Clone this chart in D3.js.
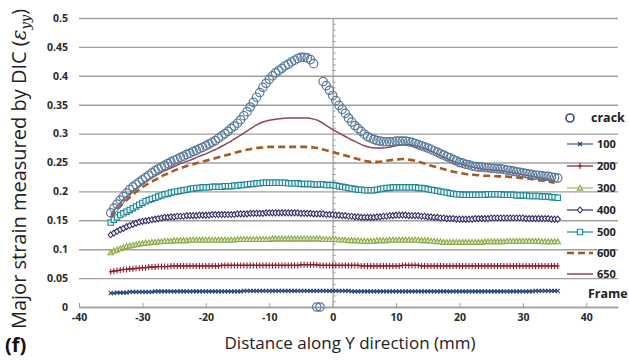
<!DOCTYPE html>
<html>
<head>
<meta charset="utf-8">
<script src="https://cdn.jsdelivr.net/npm/d3@7"></script>
<style>
  html, body { margin: 0; padding: 0; background: #fff; }
  svg { display: block; font-family: "Open Sans", sans-serif; }
</style>
</head>
<body>
<div id="graph"></div>
<script>
// sample positions along Y (mm): 0.5 mm for the marker series, 1 mm for the plain lines
const xs = d3.range(-35, 35.6, 0.5);
const xsLine = d3.range(-35, 35.1, 1);

const crack = [
  0.163, 0.171, 0.178, 0.185, 0.191, 0.197, 0.203, 0.208, 0.212, 0.216,
  0.220, 0.224, 0.228, 0.232, 0.236, 0.239, 0.242, 0.245, 0.248, 0.251,
  0.254, 0.256, 0.259, 0.261, 0.264, 0.266, 0.269, 0.271, 0.274, 0.276,
  0.279, 0.282, 0.285, 0.288, 0.292, 0.296, 0.300, 0.304, 0.309, 0.313,
  0.318, 0.324, 0.331, 0.338, 0.346, 0.354, 0.363, 0.371, 0.380, 0.387,
  0.394, 0.400, 0.405, 0.409, 0.413, 0.417, 0.420, 0.424, 0.427, 0.430,
  0.432, 0.432, 0.431, 0.428, 0.421, 0, 0, 0.390, 0.383, 0.375,
  0.366, 0.357, 0.349, 0.342, 0.335, 0.327, 0.320, 0.314, 0.309, 0.304,
  0.299, 0.295, 0.292, 0.290, 0.288, 0.287, 0.286, 0.286, 0.286, 0.286,
  0.287, 0.287, 0.287, 0.287, 0.286, 0.285, 0.283, 0.281, 0.279, 0.277,
  0.275, 0.273, 0.270, 0.268, 0.265, 0.263, 0.260, 0.258, 0.255, 0.253,
  0.250, 0.249, 0.247, 0.246, 0.244, 0.243, 0.242, 0.242, 0.241, 0.241,
  0.240, 0.240, 0.239, 0.239, 0.238, 0.237, 0.236, 0.235, 0.234, 0.233,
  0.232, 0.231, 0.230, 0.229, 0.228, 0.228, 0.227, 0.226, 0.226, 0.225,
  0.224, 0.223
];

const f100 = [
  0.024, 0.024, 0.025, 0.025, 0.025, 0.025, 0.026, 0.026, 0.026, 0.026,
  0.026, 0.026, 0.026, 0.026, 0.027, 0.027, 0.027, 0.027, 0.027, 0.027,
  0.027, 0.027, 0.027, 0.027, 0.027, 0.027, 0.027, 0.027, 0.027, 0.027,
  0.027, 0.027, 0.027, 0.027, 0.027, 0.027, 0.027, 0.027, 0.027, 0.027,
  0.027, 0.027, 0.028, 0.028, 0.028, 0.028, 0.028, 0.028, 0.028, 0.028,
  0.028, 0.028, 0.028, 0.028, 0.028, 0.028, 0.028, 0.028, 0.028, 0.028,
  0.028, 0.028, 0.028, 0.028, 0.028, 0.028, 0.028, 0.028, 0.028, 0.028,
  0.028, 0.028, 0.028, 0.028, 0.028, 0.028, 0.027, 0.027, 0.027, 0.027,
  0.027, 0.027, 0.027, 0.027, 0.027, 0.027, 0.027, 0.027, 0.027, 0.027,
  0.027, 0.027, 0.027, 0.027, 0.027, 0.027, 0.027, 0.027, 0.027, 0.027,
  0.027, 0.027, 0.027, 0.027, 0.027, 0.027, 0.027, 0.027, 0.027, 0.027,
  0.027, 0.027, 0.027, 0.027, 0.027, 0.027, 0.027, 0.027, 0.027, 0.027,
  0.027, 0.027, 0.027, 0.027, 0.027, 0.027, 0.027, 0.027, 0.027, 0.027,
  0.027, 0.027, 0.027, 0.027, 0.028, 0.028, 0.028, 0.028, 0.028, 0.028,
  0.028, 0.028
];

const f200 = [
  0.061, 0.062, 0.063, 0.064, 0.065, 0.065, 0.066, 0.066, 0.067, 0.067,
  0.068, 0.068, 0.069, 0.069, 0.069, 0.070, 0.070, 0.070, 0.070, 0.071,
  0.071, 0.071, 0.071, 0.071, 0.071, 0.071, 0.071, 0.071, 0.071, 0.071,
  0.071, 0.071, 0.071, 0.071, 0.071, 0.072, 0.072, 0.072, 0.072, 0.072,
  0.072, 0.072, 0.072, 0.072, 0.072, 0.072, 0.072, 0.072, 0.072, 0.072,
  0.072, 0.072, 0.072, 0.072, 0.072, 0.072, 0.072, 0.072, 0.072, 0.072,
  0.073, 0.073, 0.073, 0.073, 0.073, 0.073, 0.072, 0.072, 0.072, 0.072,
  0.072, 0.072, 0.072, 0.072, 0.072, 0.072, 0.072, 0.072, 0.072, 0.071,
  0.071, 0.071, 0.071, 0.071, 0.071, 0.071, 0.071, 0.071, 0.071, 0.071,
  0.071, 0.071, 0.072, 0.072, 0.072, 0.072, 0.072, 0.072, 0.071, 0.071,
  0.071, 0.071, 0.071, 0.071, 0.071, 0.071, 0.071, 0.071, 0.071, 0.071,
  0.071, 0.071, 0.071, 0.071, 0.071, 0.071, 0.071, 0.071, 0.071, 0.071,
  0.071, 0.071, 0.071, 0.071, 0.071, 0.071, 0.071, 0.071, 0.071, 0.071,
  0.071, 0.071, 0.071, 0.071, 0.071, 0.071, 0.071, 0.071, 0.071, 0.071,
  0.071, 0.071
];

const f300 = [
  0.094, 0.097, 0.099, 0.101, 0.103, 0.105, 0.106, 0.107, 0.108, 0.109,
  0.110, 0.111, 0.111, 0.112, 0.112, 0.113, 0.113, 0.114, 0.114, 0.114,
  0.115, 0.115, 0.115, 0.115, 0.115, 0.116, 0.116, 0.116, 0.116, 0.116,
  0.116, 0.116, 0.116, 0.116, 0.116, 0.116, 0.116, 0.116, 0.116, 0.116,
  0.117, 0.117, 0.117, 0.117, 0.117, 0.117, 0.117, 0.117, 0.117, 0.117,
  0.117, 0.118, 0.118, 0.118, 0.118, 0.118, 0.118, 0.118, 0.118, 0.118,
  0.118, 0.118, 0.118, 0.118, 0.118, 0.118, 0.118, 0.117, 0.117, 0.117,
  0.117, 0.117, 0.116, 0.116, 0.116, 0.115, 0.115, 0.115, 0.115, 0.114,
  0.114, 0.114, 0.114, 0.114, 0.115, 0.115, 0.115, 0.115, 0.116, 0.116,
  0.116, 0.116, 0.116, 0.116, 0.116, 0.116, 0.116, 0.116, 0.115, 0.115,
  0.115, 0.114, 0.114, 0.113, 0.113, 0.112, 0.112, 0.112, 0.112, 0.112,
  0.112, 0.112, 0.112, 0.112, 0.112, 0.112, 0.112, 0.112, 0.113, 0.113,
  0.113, 0.113, 0.113, 0.113, 0.113, 0.114, 0.114, 0.114, 0.114, 0.114,
  0.114, 0.114, 0.114, 0.114, 0.114, 0.114, 0.113, 0.113, 0.113, 0.113,
  0.113, 0.113
];

const f400 = [
  0.125, 0.128, 0.131, 0.134, 0.136, 0.139, 0.141, 0.143, 0.145, 0.147,
  0.148, 0.149, 0.150, 0.151, 0.152, 0.153, 0.154, 0.155, 0.155, 0.156,
  0.156, 0.157, 0.157, 0.157, 0.158, 0.158, 0.158, 0.158, 0.159, 0.159,
  0.159, 0.159, 0.160, 0.160, 0.160, 0.160, 0.160, 0.160, 0.160, 0.160,
  0.161, 0.161, 0.161, 0.161, 0.162, 0.162, 0.162, 0.162, 0.162, 0.163,
  0.163, 0.163, 0.163, 0.163, 0.163, 0.163, 0.163, 0.163, 0.163, 0.163,
  0.162, 0.162, 0.162, 0.162, 0.161, 0.161, 0.161, 0.161, 0.160, 0.160,
  0.160, 0.159, 0.159, 0.158, 0.158, 0.157, 0.157, 0.156, 0.156, 0.155,
  0.155, 0.155, 0.155, 0.155, 0.156, 0.156, 0.157, 0.157, 0.158, 0.158,
  0.159, 0.159, 0.159, 0.159, 0.158, 0.158, 0.158, 0.158, 0.157, 0.157,
  0.156, 0.156, 0.155, 0.155, 0.154, 0.154, 0.153, 0.153, 0.153, 0.152,
  0.152, 0.152, 0.152, 0.152, 0.152, 0.153, 0.153, 0.153, 0.153, 0.153,
  0.154, 0.154, 0.154, 0.154, 0.154, 0.154, 0.154, 0.154, 0.154, 0.154,
  0.154, 0.153, 0.153, 0.153, 0.153, 0.153, 0.153, 0.153, 0.153, 0.152,
  0.152, 0.152
];

const f500 = [
  0.146, 0.151, 0.155, 0.159, 0.162, 0.165, 0.168, 0.171, 0.174, 0.177,
  0.180, 0.183, 0.185, 0.187, 0.189, 0.191, 0.193, 0.195, 0.196, 0.198,
  0.199, 0.200, 0.201, 0.202, 0.203, 0.204, 0.205, 0.206, 0.206, 0.207,
  0.207, 0.207, 0.208, 0.208, 0.208, 0.208, 0.209, 0.209, 0.209, 0.210,
  0.210, 0.211, 0.211, 0.212, 0.213, 0.213, 0.214, 0.214, 0.215, 0.215,
  0.215, 0.215, 0.215, 0.215, 0.215, 0.215, 0.214, 0.214, 0.214, 0.214,
  0.213, 0.213, 0.213, 0.213, 0.212, 0.212, 0.212, 0.212, 0.211, 0.211,
  0.211, 0.210, 0.209, 0.208, 0.207, 0.206, 0.205, 0.204, 0.203, 0.203,
  0.202, 0.202, 0.202, 0.202, 0.203, 0.204, 0.205, 0.206, 0.206, 0.207,
  0.207, 0.207, 0.207, 0.207, 0.207, 0.207, 0.207, 0.206, 0.206, 0.205,
  0.204, 0.203, 0.202, 0.201, 0.200, 0.199, 0.198, 0.197, 0.196, 0.195,
  0.195, 0.194, 0.194, 0.194, 0.194, 0.194, 0.194, 0.194, 0.194, 0.195,
  0.195, 0.195, 0.195, 0.195, 0.194, 0.194, 0.194, 0.194, 0.193, 0.193,
  0.193, 0.193, 0.192, 0.192, 0.192, 0.192, 0.191, 0.191, 0.191, 0.190,
  0.190, 0.189
];

const f600 = [
  0.155, 0.168, 0.180, 0.190, 0.199, 0.207, 0.214, 0.220, 0.226, 0.231,
  0.236, 0.240, 0.244, 0.247, 0.250, 0.253, 0.256, 0.259, 0.262, 0.265,
  0.268, 0.271, 0.273, 0.275, 0.276, 0.277, 0.277, 0.277, 0.277, 0.277,
  0.277, 0.277, 0.276, 0.274, 0.271, 0.268, 0.265, 0.262, 0.259, 0.256,
  0.253, 0.251, 0.251, 0.252, 0.254, 0.255, 0.256, 0.255, 0.253, 0.250,
  0.246, 0.243, 0.240, 0.237, 0.234, 0.232, 0.230, 0.229, 0.228, 0.227,
  0.227, 0.226, 0.226, 0.225, 0.224, 0.223, 0.222, 0.220, 0.219, 0.217,
  0.215
];

const f650 = [
  0.160, 0.174, 0.186, 0.196, 0.205, 0.213, 0.220, 0.227, 0.233, 0.238,
  0.243, 0.248, 0.252, 0.256, 0.261, 0.265, 0.270, 0.275, 0.281, 0.287,
  0.294, 0.301, 0.308, 0.315, 0.320, 0.323, 0.325, 0.326, 0.327, 0.327,
  0.327, 0.327, 0.325, 0.321, 0.314, 0.307, 0.301, 0.295, 0.289, 0.284,
  0.279, 0.276, 0.275, 0.275, 0.277, 0.279, 0.281, 0.281, 0.279, 0.276,
  0.272, 0.267, 0.262, 0.257, 0.252, 0.248, 0.245, 0.242, 0.240, 0.238,
  0.237, 0.236, 0.235, 0.233, 0.231, 0.229, 0.227, 0.225, 0.223, 0.221,
  0.219
];

const yTicks = [0, 0.05, 0.1, 0.15, 0.2, 0.25, 0.3, 0.35, 0.4, 0.45, 0.5];
const xTicks = [-40, -30, -20, -10, 0, 10, 20, 30, 40];
const frames = ["100", "200", "300", "400", "500", "600", "650"];

const W = 629, H = 362;
const x = d3.scaleLinear().domain([-40, 45]).range([79, 618]);
const y = d3.scaleLinear().domain([0, 0.5]).range([307, 18]);

const svg = d3.select("#graph").append("svg")
  .attr("width", W).attr("height", H);

// y labels + horizontal gridlines
const yAxis = svg.append("g")
  .attr("transform", `translate(${x(-40)},0)`)
  .call(d3.axisLeft(y).tickValues(yTicks).tickFormat(d => String(d))
    .tickSize(-(x(45) - x(-40))).tickPadding(11));
yAxis.select(".domain").remove();
yAxis.selectAll(".tick line").attr("stroke", "#a0a0a0").attr("stroke-width", 1.4);
yAxis.selectAll(".tick text")
  .attr("font-family", "Open Sans").attr("font-size", 10.5)
  .attr("font-weight", 700).attr("fill", "#2a2a2a");

// x axis along zero
const xAxis = svg.append("g")
  .attr("transform", `translate(0,${y(0)})`)
  .call(d3.axisBottom(x).tickValues(xTicks).tickFormat(d => String(d))
    .tickSize(-4).tickSizeOuter(0).tickPadding(7));
xAxis.select(".domain").attr("stroke", "#a0a0a0").attr("stroke-width", 1.4);
xAxis.selectAll(".tick line").attr("stroke", "#a0a0a0");
xAxis.selectAll(".tick text")
  .attr("font-family", "Open Sans").attr("font-size", 10.5)
  .attr("font-weight", 700).attr("fill", "#2a2a2a");

// vertical axis at x = 0 with small ticks
const midAxis = svg.append("g")
  .attr("transform", `translate(${x(0)},0)`)
  .call(d3.axisRight(y).ticks(50).tickSize(3).tickFormat(""));
midAxis.select(".domain").attr("stroke", "#a0a0a0").attr("stroke-width", 1.2);
midAxis.selectAll(".tick line").attr("stroke", "#a0a0a0");

const shapes = {
  cross: "M-2,-2L2,2M-2,2L2,-2",
  plus: "M0,-3V3M-2,0H2",
  triangle: "M0,-2.8L2.7,2.1L-2.7,2.1Z",
  diamond: "M0,-3L2.6,0L0,3L-2.6,0Z",
  square: "M-2.7,-2.7H2.7V2.7H-2.7Z"
};

const series = [
  { name: "100", vals: f100, xv: xs, color: "#233f7a", line: "#3a5a93", shape: "cross", fill: "none" },
  { name: "200", vals: f200, xv: xs, color: "#8a1b27", line: "#8a1b27", shape: "plus", fill: "none" },
  { name: "300", vals: f300, xv: xs, color: "#8cab45", line: "#9bbb59", shape: "triangle", fill: "#e4eccd" },
  { name: "400", vals: f400, xv: xs, color: "#3a2a6a", line: "#3a2a6a", shape: "diamond", fill: "#fff" },
  { name: "500", vals: f500, xv: xs, color: "#1f8596", line: "#1f8596", shape: "square", fill: "#e6f6f8" },
  { name: "600", vals: f600, xv: xsLine, color: "#a85a1c", line: "#a85a1c", dash: "7,4", width: 2.6 },
  { name: "650", vals: f650, xv: xsLine, color: "#8e4658", line: "#8e4658", width: 1.5 }
];

series.forEach(s => {
  const line = d3.line().x((d, i) => x(s.xv[i])).y(d => y(d)).curve(d3.curveMonotoneX);
  svg.append("path")
    .datum(s.vals)
    .attr("fill", "none")
    .attr("stroke", s.line)
    .attr("stroke-width", s.width || 1.2)
    .attr("stroke-dasharray", s.dash || null)
    .attr("d", line);
  if (s.shape) {
    svg.append("g").selectAll("path")
      .data(s.vals)
      .join("path")
      .attr("transform", (d, i) => `translate(${x(s.xv[i])},${y(d)})`)
      .attr("d", shapes[s.shape])
      .attr("fill", s.fill)
      .attr("stroke", s.color)
      .attr("stroke-width", 1.1);
  }
});

// crack: open circles only
svg.append("g").selectAll("circle")
  .data(crack)
  .join("circle")
  .attr("cx", (d, i) => x(xs[i]))
  .attr("cy", d => y(d))
  .attr("r", 4.2)
  .attr("fill", "none")
  .attr("stroke", "#56799a")
  .attr("stroke-width", 1.2);

// legend
const lg = svg.append("g");
lg.append("circle").attr("cx", 570).attr("cy", 118).attr("r", 4)
  .attr("fill", "none").attr("stroke", "#2f5073").attr("stroke-width", 1.6);
lg.append("text").attr("x", 591).attr("y", 122).text("crack")
  .attr("font-size", 12.5).attr("font-weight", 700).attr("fill", "#222");

const legendY = [144, 166, 188, 210, 232, 253, 274];
series.forEach((s, i) => {
  const ly = legendY[i];
  lg.append("line").attr("x1", 567).attr("x2", 593).attr("y1", ly).attr("y2", ly)
    .attr("stroke", s.line).attr("stroke-width", s.width || 1.2)
    .attr("stroke-dasharray", s.dash || null);
  if (s.shape) {
    lg.append("path").attr("transform", `translate(580,${ly})`)
      .attr("d", shapes[s.shape]).attr("fill", s.fill)
      .attr("stroke", s.color).attr("stroke-width", 1.1);
  }
  lg.append("text").attr("x", 597).attr("y", ly + 4).text(frames[i])
    .attr("font-size", 11).attr("font-weight", 700).attr("fill", "#222");
});
lg.append("text").attr("x", 588).attr("y", 298).text("Frame")
  .attr("font-size", 12.5).attr("font-weight", 700).attr("fill", "#222");

// titles
const yt = svg.append("text")
  .attr("transform", "translate(26,169) rotate(-90)")
  .attr("text-anchor", "middle")
  .attr("font-size", 20)
  .attr("fill", "#222");
yt.append("tspan").text("Major strain measured by DIC (");
yt.append("tspan").attr("font-style", "italic").attr("font-family", "DejaVu Serif").text("ε");
yt.append("tspan").attr("font-style", "italic").attr("font-family", "DejaVu Serif")
  .attr("font-size", 13).attr("dy", 4).text("yy");
yt.append("tspan").attr("dy", -4).text(")");

svg.append("text")
  .attr("x", 350).attr("y", 349)
  .attr("text-anchor", "middle")
  .attr("font-size", 17)
  .attr("fill", "#222")
  .text("Distance along Y direction (mm)");

svg.append("text")
  .attr("x", 5).attr("y", 352)
  .attr("font-size", 20)
  .attr("font-weight", 700)
  .attr("fill", "#111")
  .text("(f)");
</script>
</body>
</html>
